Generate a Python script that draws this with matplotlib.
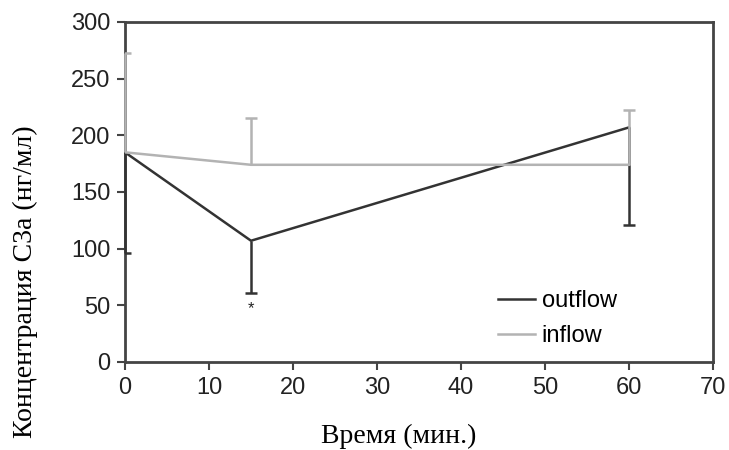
import matplotlib
matplotlib.use("Agg")
import matplotlib.pyplot as plt

# time points (min)
times = [0, 15, 60]

# outflow: mean and lower end of error bar
outflow_mean = [185, 107, 207]
outflow_low = [96, 61, 121]

# inflow: mean and upper end of error bar
inflow_mean = [185, 174, 174]
inflow_high = [273, 215, 222]

x_ticks = [0, 10, 20, 30, 40, 50, 60, 70]
y_ticks = [0, 50, 100, 150, 200, 250, 300]

dark = "#333333"
light = "#b3b3b3"

fig = plt.figure(figsize=(7.29, 4.5), dpi=100)
ax = fig.add_axes([125 / 729, 1 - 362 / 450, 588 / 729, 340 / 450])

# outflow line + one-sided (down) error bars
ax.plot(times, outflow_mean, color=dark, lw=1.8, label="outflow", zorder=3)
ax.vlines(times, outflow_low, outflow_mean, color=dark, lw=1.8, zorder=3,
          clip_on=False)
ax.plot(times, outflow_low, ls="none", marker="_", ms=9, mew=1.8,
        color=dark, zorder=3)

# inflow line + one-sided (up) error bars
ax.plot(times, inflow_mean, color=light, lw=1.8, label="inflow", zorder=4)
ax.vlines(times, inflow_mean, inflow_high, color=light, lw=1.8, zorder=4,
          clip_on=False)
ax.plot(times, inflow_high, ls="none", marker="_", ms=9, mew=1.8,
        color=light, zorder=4)

ax.text(15, 47, "*", ha="center", va="center", fontsize=12,
        color="#222222", family="Liberation Sans")

ax.set_xlim(0, 70)
ax.set_ylim(0, 300)
ax.set_xticks(x_ticks)
ax.set_yticks(y_ticks)

for s in ax.spines.values():
    s.set_color("#444444")
    s.set_linewidth(2)
    s.set_zorder(2)

ax.tick_params(direction="out", length=5.5, width=1.5, color="#444444",
               labelsize=17, labelcolor="#222222", pad=5)
for lbl in ax.get_xticklabels() + ax.get_yticklabels():
    lbl.set_family("Liberation Sans")

fig.text(399 / 729, 1 - 436 / 450, "Время (мин.)", family="Liberation Serif",
         fontsize=20, ha="center", va="center")
fig.text(25 / 729, 1 - 282 / 450, "Концентрация С3а (нг/мл)",
         family="Liberation Serif", fontsize=20, rotation=90,
         ha="center", va="center")

ax.legend(loc="center left", bbox_to_anchor=(498 / 729, 1 - 318.5 / 450),
          bbox_transform=fig.transFigure, frameon=False,
          prop={"family": "Liberation Sans", "size": 17},
          borderpad=0, borderaxespad=0,
          handlelength=1.57, handletextpad=0.28, labelspacing=0.57)

fig.savefig("out.png", dpi=100)
